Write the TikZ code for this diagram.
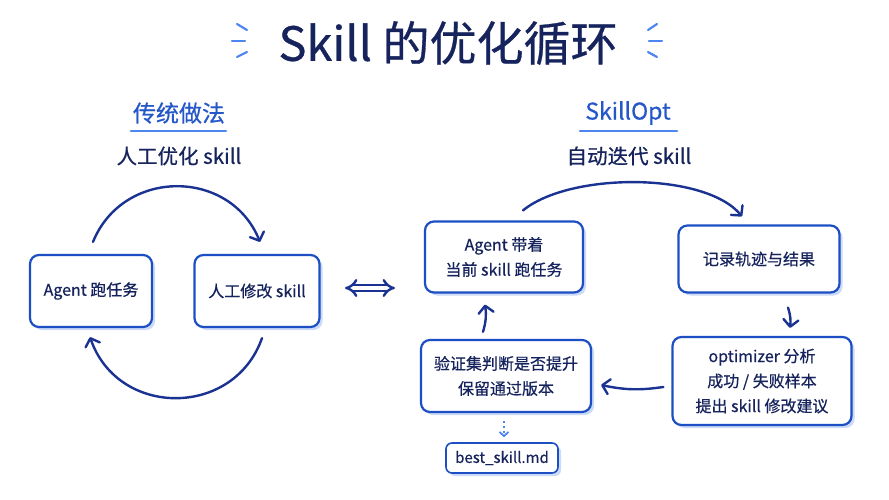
\documentclass[tikz,border=0pt]{standalone}
\usepackage{fontspec}
\setmainfont{Noto Sans CJK SC}[FakeBold=0.6]
\usetikzlibrary{arrows.meta,shadows}
\definecolor{navy}{HTML}{16235C}
\definecolor{boxblue}{HTML}{1D4FC4}
\definecolor{arrowblue}{HTML}{1A3392}
\definecolor{headblue}{HTML}{2457C8}
\definecolor{lineblue}{HTML}{4D86F0}
\definecolor{shadeblue}{HTML}{CBDAF6}
\begin{document}
\begin{tikzpicture}[x=1pt,y=-1pt,
    box/.style={draw=boxblue, line width=2.2pt, rounded corners=9pt, fill=white,
      align=center, text=navy, inner sep=0pt, font=\fontsize{16}{25}\selectfont,
      drop shadow={shadow xshift=3pt, shadow yshift=-3pt, fill=shadeblue, opacity=1}},
    head/.style={text=headblue, font=\fontsize{23}{26}\selectfont},
    sub/.style={text=navy, font=\fontsize{20.5}{24}\selectfont},
    flow/.style={draw=arrowblue, line width=2.4pt, line cap=round,
      -{Straight Barb[length=7pt,width=15pt,line cap=round,line join=round]}},
    spark/.style={draw=lineblue, line width=2.2pt, line cap=round},
    uline/.style={draw=lineblue, line width=2.4pt, line cap=round}]
  \fill[white] (0,0) rectangle (889,500);
  \useasboundingbox (0,0) rectangle (889,500);
  % title
  \node[text=navy, font=\fontsize{47}{52}\selectfont] (title) at (448,43) {Skill 的优化循环};
  \draw[spark] (237,24) -- (247,30);
  \draw[spark] (232,41) -- (245,41);
  \draw[spark] (237,57) -- (247,52);
  \draw[spark] (657,24) -- (648,30);
  \draw[spark] (662,41) -- (649,41);
  \draw[spark] (657,57) -- (648,52);
  % left: manual
  \node[head] (oldhead) at (179,113) {传统做法};
  \draw[uline] (131,131) -- (226,131);
  \node[sub] (oldsub) at (179,156) {人工优化 skill};
  \node[box, minimum width=122pt, minimum height=72pt] (run) at (91,291) {Agent 跑任务};
  \node[box, minimum width=125pt, minimum height=72pt] (edit) at (257,291) {人工修改 skill};
  \draw[flow] ([xshift=2pt,yshift=12pt]run.north) .. controls (123,168) and (230,168) .. ([xshift=3pt,yshift=12pt]edit.north);
  \draw[flow] ([xshift=5pt,yshift=-10pt]edit.south) .. controls (234,418) and (118,418) .. ([xshift=-1pt,yshift=-9pt]run.south);
  % versus
  \coordinate (vsl) at (345,288);
  \coordinate (vsr) at (395,288);
  \draw[draw=arrowblue, line width=2.4pt, double=white, double distance=3.5pt,
    {Implies[length=11pt,width=20pt]}-{Implies[length=11pt,width=20pt]}] (vsl) -- (vsr);
  % right: SkillOpt
  \node[head] (newhead) at (628,113) {SkillOpt};
  \draw[uline] (580,131) -- (677,131);
  \node[sub] (newsub) at (629,156) {自动迭代 skill};
  \node[box, minimum width=158pt, minimum height=71pt] (agent) at (504,257) {Agent 带着\\当前 skill 跑任务};
  \node[box, minimum width=161pt, minimum height=67pt] (log) at (759,259) {记录轨迹与结果};
  \node[box, minimum width=179pt, minimum height=88pt] (opt) at (762,381) {optimizer 分析\\成功 / 失败样本\\提出 skill 修改建议};
  \node[box, minimum width=170pt, minimum height=72pt] (check) at (506,376) {验证集判断是否提升\\保留通过版本};
  \node[box, minimum width=112pt, minimum height=30pt, rounded corners=6pt, line width=1.6pt,
    font=\fontsize{15}{18}\selectfont] (best) at (502,458) {best\_skill.md};
  \draw[flow] ([xshift=19pt,yshift=10pt]agent.north) .. controls (570,172) and (705,172) .. ([xshift=-17pt,yshift=8pt]log.north);
  \draw[flow] ([xshift=29pt,yshift=-14pt]log.south) to[bend left=12] ([xshift=28pt,yshift=8pt]opt.north);
  \draw[flow] ([xshift=-8pt,yshift=-6pt]opt.west) to[bend left=10] ([xshift=9pt,yshift=-9pt]check.east);
  \draw[flow] ([xshift=-23pt,yshift=7pt]check.north) to[bend right=12] ([xshift=-19pt,yshift=-11pt]agent.south);
  \draw[draw=lineblue, line width=1.8pt, dash pattern=on 2pt off 3pt,
    -{Straight Barb[length=4pt,width=9pt]}] ([xshift=-2pt,yshift=-8pt]check.south) -- ([xshift=2pt,yshift=5pt]best.north);
\end{tikzpicture}
\end{document}
